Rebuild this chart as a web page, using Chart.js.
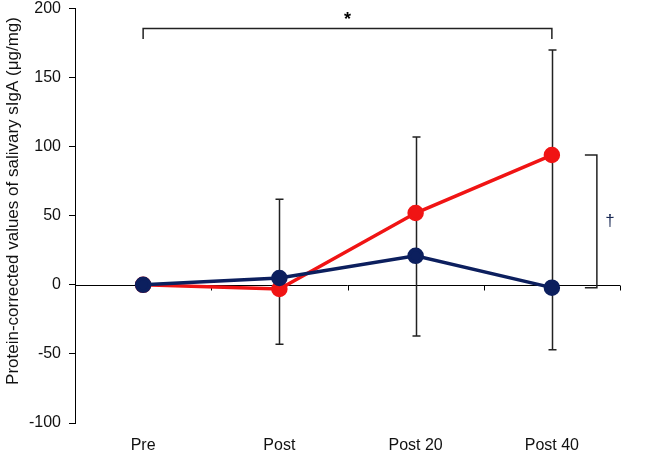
<!DOCTYPE html>
<html>
<head>
<meta charset="utf-8">
<script src="https://cdn.jsdelivr.net/npm/chart.js@4.4.1/dist/chart.umd.min.js"></script>
<style>
  html, body { margin: 0; padding: 0; background: #fff; }
  #wrap { width: 650px; height: 455px; overflow: hidden; }
  #chart { display: block; margin-top: -9px; }
</style>
</head>
<body>
<div id="wrap"><canvas id="chart" width="650" height="464"></canvas></div>
<script>
// data
const categories = ['Pre', 'Post', 'Post 20', 'Post 40'];
const redValues = [0, -3, 52, 94];
const blueValues = [0, 5, 21, -2];
const errHigh = [null, 62, 107, 170];
const errLow = [null, -43, -37, -47];
const yTicks = [200, 150, 100, 50, 0, -50, -100];
const yTitle = 'Protein-corrected values of salivary sIgA (\u03bcg/mg)';

// comparison marks
const bracketTop = 186;
const bracketFoot = 178;

const annotPlugin = {
    id: 'annot',
    beforeDatasetsDraw(chart) {
        const ctx = chart.ctx;
        const x = chart.scales.x;
        const y = chart.scales.y;
        const area = chart.chartArea;
        ctx.save();
        // zero line with ticks between categories
        const y0 = Math.round(y.getPixelForValue(0)) + 0.5;
        ctx.strokeStyle = '#000';
        ctx.lineWidth = 1;
        ctx.beginPath();
        ctx.moveTo(area.left, y0);
        ctx.lineTo(area.right, y0);
        const step = (area.right - area.left) / categories.length;
        for (let i = 1; i <= categories.length; i++) {
            const tx = Math.round(area.left + step * i) + 0.5;
            ctx.moveTo(tx, y0);
            ctx.lineTo(tx, y0 + 5);
        }
        ctx.stroke();

        // error bars
        ctx.strokeStyle = '#222';
        ctx.lineWidth = 1.5;
        ctx.beginPath();
        for (let i = 0; i < categories.length; i++) {
            if (errHigh[i] === null) continue;
            const px = Math.round(x.getPixelForValue(i)) + 0.5;
            const hi = y.getPixelForValue(errHigh[i]);
            const lo = y.getPixelForValue(errLow[i]);
            ctx.moveTo(px, hi);
            ctx.lineTo(px, lo);
            ctx.moveTo(px - 4, hi);
            ctx.lineTo(px + 4, hi);
            ctx.moveTo(px - 4, lo);
            ctx.lineTo(px + 4, lo);
        }
        ctx.stroke();

        // y axis title
        ctx.translate(13, 210);
        ctx.rotate(-Math.PI / 2);
        ctx.fillStyle = '#111';
        ctx.font = '17px "Liberation Sans", Arial, sans-serif';
        ctx.textAlign = 'center';
        ctx.textBaseline = 'middle';
        ctx.fillText(yTitle, 0, 0);
        ctx.restore();
    },
    afterDatasetsDraw(chart) {
        const ctx = chart.ctx;
        const x = chart.scales.x;
        const y = chart.scales.y;
        ctx.save();
        ctx.strokeStyle = '#222';
        ctx.lineWidth = 1.5;
        // bracket Pre -> Post 40
        const x1 = x.getPixelForValue(0);
        const x2 = x.getPixelForValue(3);
        const yt = Math.round(y.getPixelForValue(bracketTop)) + 0.5;
        const yf = y.getPixelForValue(bracketFoot);
        ctx.beginPath();
        ctx.moveTo(x1, yf);
        ctx.lineTo(x1, yt);
        ctx.lineTo(x2, yt);
        ctx.lineTo(x2, yf);
        ctx.stroke();
        ctx.fillStyle = '#000';
        ctx.font = 'bold 18px "Liberation Sans", Arial, sans-serif';
        ctx.textAlign = 'center';
        ctx.textBaseline = 'middle';
        ctx.fillText('*', (x1 + x2) / 2, yt - 8);

        // bracket between groups at Post 40
        const bx = x2 + 45;
        const ya = y.getPixelForValue(redValues[3]);
        const yb = y.getPixelForValue(blueValues[3]);
        ctx.beginPath();
        ctx.moveTo(x2 + 33, ya);
        ctx.lineTo(bx, ya);
        ctx.lineTo(bx, yb);
        ctx.lineTo(x2 + 33, yb);
        ctx.stroke();
        ctx.font = '17px "Liberation Sans", Arial, sans-serif';
        ctx.fillStyle = '#1a2a55';
        ctx.fillText('\u2020', bx + 13, (ya + yb) / 2);
        ctx.restore();
    }
};

new Chart(document.getElementById('chart'), {
    type: 'line',
    data: {
        labels: categories,
        datasets: [
            {
                label: 'Blue',
                data: blueValues,
                borderColor: '#0c1f5e',
                backgroundColor: '#0c1f5e',
                borderWidth: 3.5,
                pointRadius: 6.5,
                pointHoverRadius: 6.5,
                tension: 0
            },
            {
                label: 'Red',
                data: redValues,
                borderColor: '#f01414',
                backgroundColor: '#f01414',
                borderWidth: 3.5,
                pointRadius: 6.5,
                pointHoverRadius: 6.5,
                tension: 0
            }
        ]
    },
    options: {
        responsive: false,
        animation: false,
        layout: { padding: { top: 0, right: 30, left: 0, bottom: 0 } },
        plugins: {
            legend: { display: false },
            tooltip: { enabled: false }
        },
        scales: {
            x: {
                offset: true,
                grid: { display: false, drawTicks: false },
                border: { display: false },
                ticks: {
                    color: '#111',
                    padding: 13,
                    font: { family: '"Liberation Sans", Arial, sans-serif', size: 16 }
                },
                afterFit: (s) => { s.height = 32; }
            },
            y: {
                min: -100,
                max: 200,
                afterBuildTicks: (s) => { s.ticks = yTicks.map(v => ({ value: v })); },
                grid: { drawOnChartArea: false, drawTicks: true, tickLength: 6, color: '#000' },
                border: { display: true, color: '#000', width: 1 },
                ticks: {
                    color: '#111',
                    padding: 8,
                    font: { family: '"Liberation Sans", Arial, sans-serif', size: 16 }
                },
                afterFit: (s) => { s.width = 75; }
            }
        }
    },
    plugins: [annotPlugin]
});
</script>
</body>
</html>
